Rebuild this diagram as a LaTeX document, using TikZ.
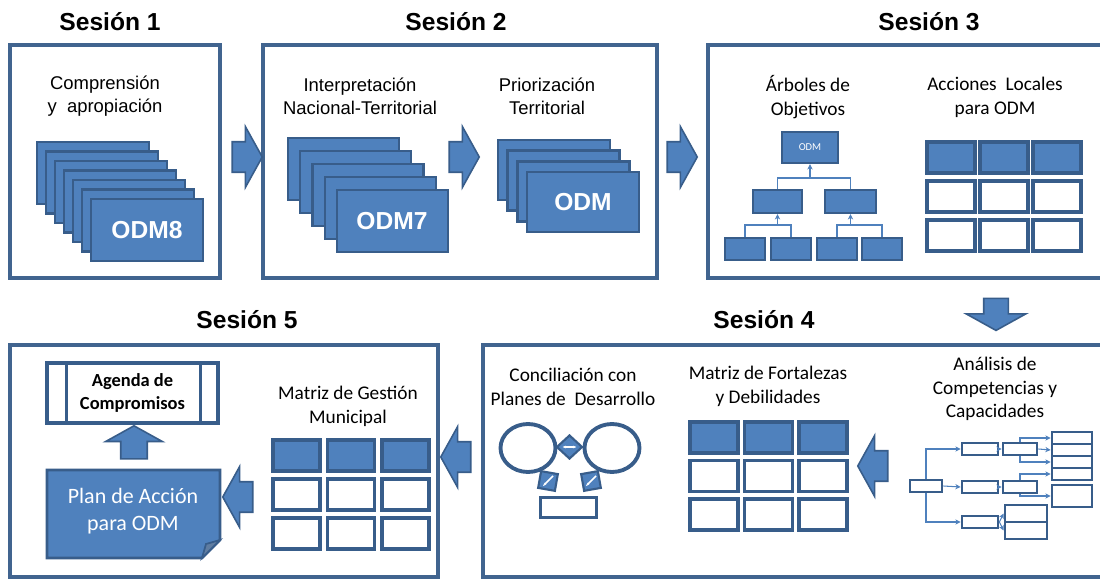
\documentclass[tikz,border=0pt]{standalone}
\usepackage{fontspec}
\setmainfont{Liberation Sans}
\newfontfamily\calibri{Carlito}
\usetikzlibrary{shapes.geometric,shapes.arrows,arrows.meta}
\definecolor{odmblue}{HTML}{4F81BD}
\definecolor{odmdark}{HTML}{385D8A}
\definecolor{odmframe}{HTML}{41648F}

\begin{document}
\begin{tikzpicture}[x=0.02cm, y=-0.02cm]
	\useasboundingbox (0,0) rectangle (1100,581);
	\clip (0,0) rectangle (1100,581);
	% Define styles
	\tikzstyle{frame}=[draw=odmframe, line width=1.8pt, fill=white]
	\tikzstyle{sestitle}=[font=\bfseries\fontsize{14}{16}\selectfont]
	\tikzstyle{sestext}=[align=center, font=\fontsize{10.5}{13}\selectfont]
	\tikzstyle{caltext}=[align=center, font=\calibri\fontsize{11}{13.8}\selectfont]
	\tikzstyle{card}=[draw=odmdark, line width=1.4pt, fill=odmblue]
	\tikzstyle{cell}=[draw=odmdark, line width=2.2pt, fill=white]
	\tikzstyle{tbox}=[draw=odmdark, line width=1.6pt, fill=white, inner sep=0pt]
	\tikzstyle{odmtext}=[text=white, font=\bfseries\fontsize{14}{16}\selectfont]
	\tikzstyle{fat}=[single arrow, draw=odmdark, line width=0.9pt, fill=odmblue, inner xsep=0pt, inner ysep=0.29cm, single arrow head extend=0.3cm, single arrow tip angle=122, minimum height=0.6cm]
	\tikzstyle{link}=[draw=odmblue, line width=0.6pt, -{Stealth[length=3pt,width=3pt]}]
	\tikzstyle{tie}=[draw=odmblue, line width=0.6pt]

	% Session frames
	\filldraw[frame] (10,45) rectangle (220,278);
	\filldraw[frame] (263,45) rectangle (657,278);
	\filldraw[frame] (708,45) rectangle (1110,278);
	\filldraw[frame] (483,345) rectangle (1110,577);
	\filldraw[frame] (10,345) rectangle (438,577);

	\node[sestitle] (s1) at (110,22) {Sesión 1};
	\node[sestitle] (s2) at (456,22) {Sesión 2};
	\node[sestitle] (s3) at (929,22) {Sesión 3};
	\node[sestitle] (s4) at (764,320) {Sesión 4};
	\node[sestitle] (s5) at (247,320) {Sesión 5};

	% Session 1
	\node[sestext] (compr) at (105,96) {Comprensión\\y~ apropiación};
	\foreach \i in {0,...,6}
		\filldraw[card] ({37+9*\i},{142+9.5*\i}) rectangle ++(112,62);
	\node[odmtext] (odm8) at (147,230) {ODM8};

	% Session 2
	\node[sestext] (interp) at (360,96) {Interpretación\\Nacional-Territorial};
	\foreach \i in {0,...,4}
		\filldraw[card] ({288+12.25*\i},{138+13*\i}) rectangle ++(111,62);
	\node[odmtext] (odm7) at (392,221) {ODM7};
	\node[sestext] (prior) at (547,96) {Priorización\\Territorial};
	\foreach \i in {0,...,3}
		\filldraw[card] ({498+9.7*\i},{140+10.7*\i}) rectangle ++(112,60);
	\node[odmtext] (odm) at (583,202) {ODM};

	% Session 3
	\node[caltext] (arbol) at (808,97) {Árboles de\\Objetivos};
	\node[card, minimum width=1.12cm, minimum height=0.62cm, text=white, font=\calibri\fontsize{6}{7}\selectfont] (t0) at (810,147.5) {ODM};
	\node[card, minimum width=0.98cm, minimum height=0.46cm] (t1) at (777.5,201.5) {};
	\node[card, minimum width=1.02cm, minimum height=0.46cm] (t2) at (850.5,201.5) {};
	\foreach \n/\x in {b1/745, b2/791, b3/837, b4/882}
		\node[card, minimum width=0.8cm, minimum height=0.44cm] (\n) at (\x,249) {};
	\coordinate (j0) at (810,178);
	\coordinate (j1) at (777.5,225);
	\coordinate (j2) at (850.5,225);
	\draw[tie] (t1.north) |- (j0) -| (t2.north);
	\draw[link] (j0) -- (t0.south);
	\draw[tie] (b1.north) |- (j1) -| (b2.north);
	\draw[link] (j1) -- (t1.south);
	\draw[tie] (b3.north) |- (j2) -| (b4.north);
	\draw[link] (j2) -- (t2.south);

	\node[caltext] (acciones) at (995,97) {Acciones~ Locales\\para ODM};
	\foreach \c in {0,1,2}
		\foreach \r/\f in {0/odmblue, 1/white, 2/white}
			\filldraw[cell, fill=\f] ({927+53*\c},{142+39*\r}) rectangle ++(48,31);

	% Session 4
	\node[caltext, font=\calibri\fontsize{11}{13.3}\selectfont] (analisis) at (995,389) {Análisis de\\Competencias y\\Capacidades};
	\node[tbox, minimum width=0.64cm, minimum height=0.24cm] (r) at (926,486) {};
	\foreach \n/\y in {a1/449, a2/487, a3/522}
		\node[tbox, minimum width=0.72cm, minimum height=0.24cm] (\n) at (980,\y) {};
	\foreach \n/\y in {bb1/449, bb2/487}
		\node[tbox, minimum width=0.68cm, minimum height=0.24cm] (\n) at (1020,\y) {};
	\foreach \n/\y in {c1/438, c2/450, c3/462, c4/474}
		\node[tbox, minimum width=0.8cm, minimum height=0.24cm] (\n) at (1072,\y) {};
	\node[tbox, minimum width=0.8cm, minimum height=0.44cm] (e) at (1072,496) {};
	\foreach \n/\y in {d1/513.5, d2/530.5}
		\node[tbox, minimum width=0.84cm, minimum height=0.34cm] (\n) at (1026,\y) {};
	\draw[link] (r.north) |- (a1.west);
	\draw[link] (r.east) -- (a2.west);
	\draw[link] (r.south) |- (a3.west);
	\draw[link] (a1.east) -- (bb1.west);
	\draw[link] (a2.east) -- (bb2.west);
	\draw[link] (bb1.north) |- (c1.west);
	\draw[link] (bb1.east) -- (c2.west);
	\draw[link] (bb1.south) |- (c3.west);
	\draw[link] (bb2.north) |- (c4.west);
	\draw[link] (bb2.south) |- (e.west);
	\draw[link] (a3.east) -- (d1.west);
	\draw[link] (a3.east) -- (d2.west);

	\node[fat, shape border rotate=180] (arr4) at (877,466) {};

	\node[caltext] (fortal) at (768,386) {Matriz de Fortalezas\\y Debilidades};
	\foreach \c in {0,1,2}
		\foreach \r/\f in {0/odmblue, 1/white, 2/white}
			\filldraw[cell, fill=\f] ({690+54.5*\c},{422+38.5*\r}) rectangle ++(48,31);

	\node[caltext] (concil) at (573,387) {Conciliación con\\Planes de~ Desarrollo};
	\node[ellipse, draw=odmdark, line width=2.2pt, minimum width=1.1cm, minimum height=0.96cm] (el) at (528,448) {};
	\node[ellipse, draw=odmdark, line width=2.2pt, minimum width=1.1cm, minimum height=0.96cm] (er) at (612,448) {};
	\node[diamond, draw=odmdark, line width=1.2pt, fill=odmblue, inner sep=0pt, minimum width=0.52cm, minimum height=0.48cm] (dm) at (569.5,447) {};
	\draw[white, line width=1pt, {Stealth[length=2pt]}-{Stealth[length=2pt]}] ([xshift=-0.14cm]dm.center) -- ([xshift=0.14cm]dm.center);
	\node[rectangle, draw=odmdark, line width=1.2pt, fill=odmblue, inner sep=0pt, minimum size=0.34cm, rotate=-10] (ql) at (548,481) {};
	\node[rectangle, draw=odmdark, line width=1.2pt, fill=odmblue, inner sep=0pt, minimum size=0.34cm, rotate=10] (qr) at (591,481) {};
	\draw[white, line width=1pt, -{Stealth[length=2pt]}] ([shift={(0.1cm,0.1cm)}]ql.center) -- ([shift={(-0.1cm,-0.1cm)}]ql.center);
	\draw[white, line width=1pt, -{Stealth[length=2pt]}] ([shift={(0.1cm,0.1cm)}]qr.center) -- ([shift={(-0.1cm,-0.1cm)}]qr.center);
	\node[tbox, line width=2pt, minimum width=1.12cm, minimum height=0.4cm] (rc) at (568.5,507.5) {};

	\node[fat, shape border rotate=180] (arr45) at (460,457) {};

	% Session 5
	\node[caltext] (gestion) at (348,406) {Matriz de Gestión\\Municipal};
	\foreach \c in {0,1,2}
		\foreach \r/\f in {0/odmblue, 1/white, 2/white}
			\filldraw[cell, fill=\f] ({273+54.5*\c},{440+39*\r}) rectangle ++(47,31);

	\node[fat, shape border rotate=180] (arr5) at (242,497) {};

	\filldraw[card, line width=1.6pt] (47,470) -- (220,470) -- (220,540) -- (202,558) -- (47,558) -- cycle;
	\filldraw[draw=odmdark, fill=odmdark!80, line width=1pt] (220,540) -- (206,544) -- (202,558) -- cycle;
	\node[text=white, align=center, font=\calibri\fontsize{12.5}{15}\selectfont] (plan) at (133,511) {Plan de Acción\\para ODM};

	\node[fat, shape border rotate=90, inner xsep=0.25cm, inner ysep=0pt, minimum height=0.66cm] (arrup) at (134,446) {};

	\node[tbox, line width=1.8pt, minimum width=3.42cm, minimum height=1.2cm, align=center, font=\calibri\bfseries\fontsize{10.5}{13.5}\selectfont] (agenda) at (132.5,393) {Agenda de\\Compromisos};
	\draw[odmdark, line width=1.6pt] ([xshift=0.42cm]agenda.north west) -- ([xshift=0.42cm]agenda.south west);
	\draw[odmdark, line width=1.6pt] ([xshift=-0.38cm]agenda.north east) -- ([xshift=-0.38cm]agenda.south east);

	% Arrows between sessions
	\node[fat] (arr12) at (243,157) {};
	\node[fat] (arr2) at (460,157) {};
	\node[fat] (arr23) at (678,157) {};
	\node[fat, shape border rotate=270, inner xsep=0.23cm, inner ysep=0pt, single arrow head extend=0.35cm, minimum height=0.64cm] (arr34) at (996,311) {};
\end{tikzpicture}
\end{document}
